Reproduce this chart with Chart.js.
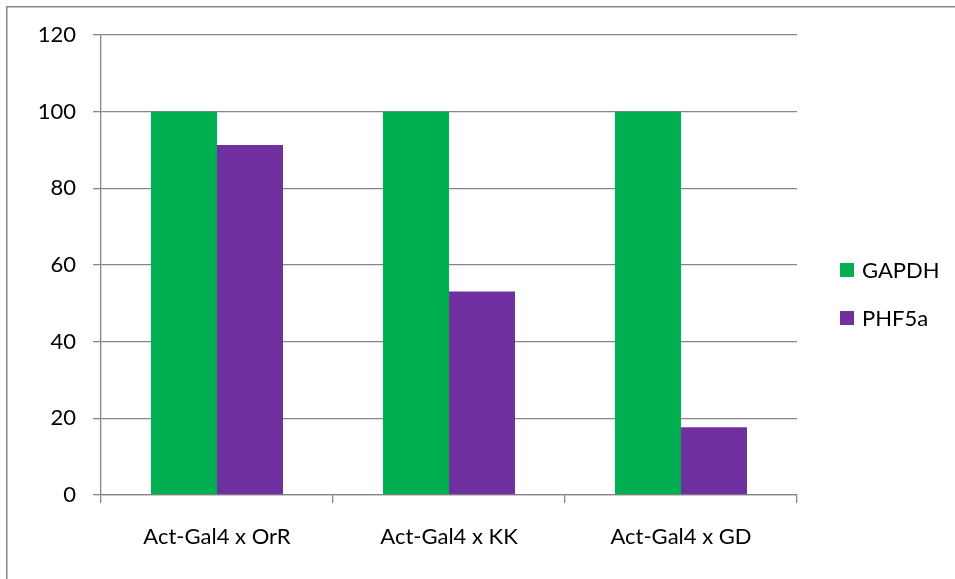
<!DOCTYPE html>
<html>
<head>
<meta charset="utf-8">
<script src="https://cdn.jsdelivr.net/npm/chart.js@4"></script>
<style>
  html, body { margin: 0; padding: 0; background: #ffffff; }
  #wrap { width: 955px; height: 579px; position: relative; }
</style>
</head>
<body>
<div id="wrap"><canvas id="c" width="955" height="579"></canvas></div>
<script>
// Relative expression, Act-Gal4 crosses
const categories = ['Act-Gal4 x OrR', 'Act-Gal4 x KK', 'Act-Gal4 x GD'];
const gapdhValues = [100, 100, 100];
const phf5aValues = [91.3, 53.1, 17.7];
const yTicks = [0, 20, 40, 60, 80, 100, 120];

const GREEN = '#00B050';
const PURPLE = '#7030A0';
const GRID = '#868686';
const FONT = 'Lato, "Open Sans", sans-serif';
const FONT_SIZE = 22;

// Frame around the whole chart (right/bottom edges fall outside the canvas)
const framePlugin = {
  id: 'frame',
  beforeDraw(chart) {
    const ctx = chart.ctx;
    ctx.save();
    ctx.fillStyle = '#ffffff';
    ctx.fillRect(0, 0, chart.width, chart.height);
    ctx.strokeStyle = GRID;
    ctx.lineWidth = 1.5;
    ctx.strokeRect(6.75, 6.75, chart.width + 10, chart.height + 10);
    ctx.restore();
  }
};

// Series key on the right, built from the datasets
const sideKeyPlugin = {
  id: 'sideKey',
  afterDraw(chart) {
    const ctx = chart.ctx;
    const x0 = chart.chartArea.right + 43;
    const centers = [270, 318];
    ctx.save();
    ctx.font = FONT_SIZE + 'px ' + FONT;
    ctx.textBaseline = 'middle';
    ctx.textAlign = 'left';
    chart.data.datasets.forEach((ds, i) => {
      const cy = centers[i];
      ctx.fillStyle = ds.backgroundColor;
      ctx.fillRect(x0, cy - 7, 14, 14);
      ctx.fillStyle = '#000000';
      ctx.fillText(ds.label, x0 + 22, cy + 1);
    });
    ctx.restore();
  }
};

new Chart(document.getElementById('c'), {
  type: 'bar',
  data: {
    labels: categories,
    datasets: [
      { label: 'GAPDH', data: gapdhValues, backgroundColor: GREEN, borderWidth: 0 },
      { label: 'PHF5a', data: phf5aValues, backgroundColor: PURPLE, borderWidth: 0 }
    ]
  },
  options: {
    responsive: false,
    animation: false,
    devicePixelRatio: 1,
    datasets: { bar: { categoryPercentage: 0.569, barPercentage: 1.0 } },
    layout: { padding: { left: 0, right: 158, top: 35, bottom: 0 } },
    plugins: {
      legend: { display: false },
      tooltip: { enabled: false }
    },
    scales: {
      x: {
        offset: true,
        grid: {
          offset: true,
          drawOnChartArea: false,
          drawTicks: true,
          tickLength: 8,
          color: GRID,
          lineWidth: 1.3
        },
        border: { display: true, color: GRID, width: 1.3 },
        ticks: {
          color: '#000000',
          font: { family: FONT, size: FONT_SIZE },
          padding: 21
        },
        afterFit(scale) { scale.height = 579 - 495; }
      },
      y: {
        min: 0,
        max: 120,
        afterBuildTicks(scale) { scale.ticks = yTicks.map(v => ({ value: v })); },
        grid: {
          color: GRID,
          lineWidth: 1.3,
          drawTicks: true,
          tickLength: 8
        },
        border: { display: true, color: GRID, width: 1.3 },
        ticks: {
          color: '#000000',
          font: { family: FONT, size: FONT_SIZE },
          padding: 17
        },
        afterFit(scale) { scale.width = 101; }
      }
    }
  },
  plugins: [framePlugin, sideKeyPlugin]
});
</script>
</body>
</html>
